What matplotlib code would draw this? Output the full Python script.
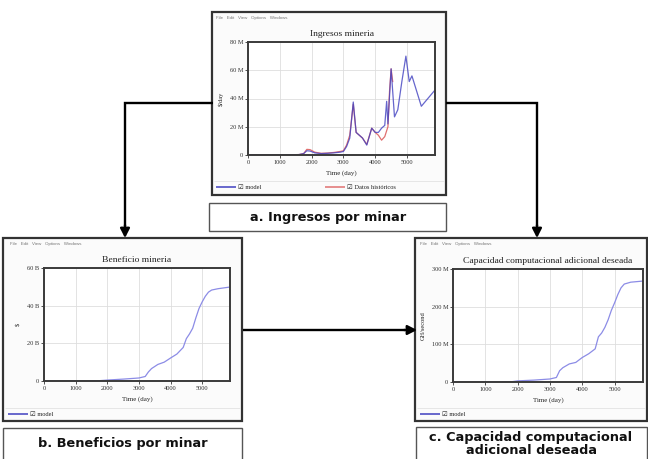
import matplotlib
matplotlib.use("Agg")
import matplotlib.pyplot as plt
from matplotlib.patches import Rectangle
from matplotlib.lines import Line2D

W, H = 648, 459

# --- datos ---
# Ingresos mineria ($/day)
t_ingresos = [0, 1000, 1600, 1750, 1850, 1950, 2100, 2300, 2500, 2700, 2900, 3000, 3100, 3200,
              3310, 3400, 3500, 3600, 3735, 3890, 4000, 4100, 4200, 4300, 4360, 4400, 4500,
              4606, 4710, 4838, 4965, 5070, 5155, 5450, 5880]
ingresos_model = [0, 0, 0.3, 1.0, 3.0, 2.8, 1.5, 1.0, 1.2, 1.5, 2.0, 2.5, 6.0, 12.0,
                  37.5, 16.0, 14.0, 12.0, 7.0, 19.0, 16.0, 16.0, 19.0, 21.0, 38.0, 22.0, 61.0,
                  27.0, 32.0, 52.0, 70.0, 52.0, 56.0, 34.5, 46.0]
t_hist = [0, 1000, 1600, 1750, 1850, 1950, 2100, 2300, 2500, 2700, 2900, 3000, 3100, 3200,
          3310, 3400, 3500, 3600, 3735, 3890, 4000, 4100, 4200, 4300, 4400, 4450, 4500, 4550]
ingresos_hist = [0, 0, 0.3, 1.0, 4.0, 3.8, 2.0, 1.2, 1.4, 1.8, 2.5, 3.0, 7.0, 14.0,
                 36.0, 16.0, 14.0, 12.0, 7.5, 19.0, 16.0, 14.0, 10.5, 13.0, 20.0, 45.0, 61.0, 52.0]

# Beneficio mineria ($, miles de millones)
t_benef = [0, 1000, 1700, 2000, 2500, 3000, 3200, 3300, 3400, 3600, 3800, 4000, 4200, 4400,
           4500, 4600, 4700, 4800, 4900, 5000, 5100, 5200, 5300, 5500, 5840]
beneficio = [0, 0, 0.1, 0.5, 1.0, 1.6, 2.4, 4.8, 6.6, 8.8, 10.0, 12.2, 14.3, 17.8,
             22.5, 25.0, 28.0, 33.5, 38.5, 42.0, 45.0, 47.2, 48.3, 49.0, 49.8]

# Capacidad computacional adicional deseada (GH/second, millones)
t_capac = [0, 1000, 1800, 2000, 2500, 3000, 3200, 3300, 3400, 3600, 3800, 4000, 4200, 4400,
           4500, 4600, 4700, 4800, 4900, 5000, 5100, 5200, 5300, 5500, 5880]
capacidad = [0, 0, 0.5, 3, 5, 8, 12, 30, 38, 48, 52, 65, 75, 88,
             120, 130, 145, 165, 190, 210, 232, 250, 260, 265, 268]

x_ticks = [0, 1000, 2000, 3000, 4000, 5000]

serif = ["Liberation Serif", "DejaVu Serif"]
sans = ["Liberation Sans", "DejaVu Sans"]
azul = "#4040c0"
azul_claro = "#8c8ce6"
rojo = "#e07070"


def fx(x):
    return x / W


def fy(y):
    return 1 - y / H


def caja(fig, x0, y0, x1, y1, lw=1.6, ec="#333333", fc="#fbfbfb"):
    fig.patches.append(Rectangle((fx(x0), fy(y1)), (x1 - x0) / W, (y1 - y0) / H,
                                 transform=fig.transFigure, lw=lw, ec=ec, fc=fc, zorder=-5))


def linea(fig, xs, ys, lw=1.7, color="black"):
    fig.lines.append(Line2D([fx(x) for x in xs], [fy(y) for y in ys],
                            transform=fig.transFigure, lw=lw, color=color,
                            solid_capstyle="butt", solid_joinstyle="miter"))


def flecha(fig, x0, y0, x1, y1):
    plt.annotate("", xy=(fx(x1), fy(y1)), xytext=(fx(x0), fy(y0)),
                 xycoords="figure fraction", textcoords="figure fraction",
                 arrowprops=dict(arrowstyle="-|>,head_length=0.55,head_width=0.28",
                                 lw=1.7, color="black", shrinkA=0, shrinkB=0))


def panel(fig, box, axbox, titulo, ylabel, ymax, yticks, yticklabels, legend_y, menu_x):
    x0, y0, x1, y1 = box
    caja(fig, x0, y0, x1, y1)
    # barra de menu
    fig.text(fx(menu_x), fy(y0 + 6), "File   Edit   View   Options   Windows",
             fontsize=3.2, color="#777777", family=sans, va="center")
    # separador de leyenda
    linea(fig, [x0 + 2, x1 - 2], [legend_y - 6, legend_y - 6], lw=0.5, color="#dddddd")
    ax0, ay0, ax1, ay1 = axbox
    ax = fig.add_axes([fx(ax0), fy(ay1), (ax1 - ax0) / W, (ay1 - ay0) / H])
    ax.set_facecolor("white")
    ax.set_xlim(0, 5880)
    ax.set_ylim(0, ymax)
    ax.set_xticks(x_ticks)
    ax.set_xticklabels([str(v) for v in x_ticks], family=serif, fontsize=4.6)
    ax.set_yticks(yticks)
    ax.set_yticklabels(yticklabels, family=serif, fontsize=4.6)
    ax.tick_params(length=2, width=0.6, pad=1.5, colors="#333333")
    ax.grid(True, color="#dedede", lw=0.6)
    ax.set_axisbelow(True)
    for s in ax.spines.values():
        s.set_color("#3a3a3a")
        s.set_linewidth(1.4)
    ax.set_title(titulo, family=serif, fontsize=6.8, pad=4, color="#222222")
    ax.set_xlabel("Time (day)", family=serif, fontsize=5, labelpad=4, color="#222222")
    ax.set_ylabel(ylabel, family=serif, fontsize=4.6, labelpad=4, color="#222222")
    return ax


def leyenda(fig, x, y, texto, color):
    linea(fig, [x, x + 20], [y, y], lw=1.1, color=color)
    fig.text(fx(x + 22), fy(y), "\u2611 " + texto, fontsize=4.6, family=serif + ["DejaVu Sans"],
             va="center", color="#222222")


fig = plt.figure(figsize=(W / 100, H / 100), dpi=100)
fig.patch.set_facecolor("white")

# --- a. Ingresos por minar ---
ax_a = panel(fig, (212, 12, 446, 195), (248, 42, 435, 155), "Ingresos mineria", "$/day",
             80, [0, 20, 40, 60, 80], ["0", "20 M", "40 M", "60 M", "80 M"], 187, 216)
ax_a.plot(t_hist, ingresos_hist, color=rojo, lw=0.9)
ax_a.plot(t_ingresos, ingresos_model, color=azul, lw=0.9, alpha=0.8)
leyenda(fig, 216, 187, "model", azul)
leyenda(fig, 325, 187, "Datos históricos", rojo)

# --- b. Beneficios por minar ---
ax_b = panel(fig, (3, 238, 242, 421), (44, 268, 230, 381), "Beneficio mineria", "$",
             60, [0, 20, 40, 60], ["0", "20 B", "40 B", "60 B"], 414, 10)
ax_b.plot(t_benef, beneficio, color=azul_claro, lw=0.9)
leyenda(fig, 8, 414, "model", azul)

# --- c. Capacidad computacional adicional deseada ---
ax_c = panel(fig, (415, 238, 647, 421), (453, 269, 643, 382),
             "Capacidad computacional adicional deseada", "GH/second",
             300, [0, 100, 200, 300], ["0", "100 M", "200 M", "300 M"], 414, 420)
ax_c.plot(t_capac, capacidad, color=azul_claro, lw=0.9)
leyenda(fig, 420, 414, "model", azul)

# --- cajas de etiqueta ---
caja(fig, 209, 203, 446, 231, lw=1.0, ec="#555555", fc="white")
caja(fig, 3, 428, 242, 460, lw=1.0, ec="#555555", fc="white")
caja(fig, 416, 427, 647, 460, lw=1.0, ec="#555555", fc="white")
etiqueta = dict(fontsize=9.3, weight="heavy", family=["DejaVu Sans"], ha="center",
                va="center", color="#111111")
fig.text(fx(328), fy(217), "a. Ingresos por minar", **etiqueta)
fig.text(fx(123), fy(444), "b. Beneficios por minar", **etiqueta)
fig.text(fx(531), fy(444), "c. Capacidad computacional\nadicional deseada",
         linespacing=1.0, **etiqueta)

# --- flechas ---
linea(fig, [213, 125, 125], [103, 103, 226])
flecha(fig, 125, 225, 125, 238)
linea(fig, [446, 537, 537], [103, 103, 226])
flecha(fig, 537, 225, 537, 238)
linea(fig, [243, 405], [330, 330])
flecha(fig, 404, 330, 417, 330)

fig.savefig("out.png", dpi=100)
